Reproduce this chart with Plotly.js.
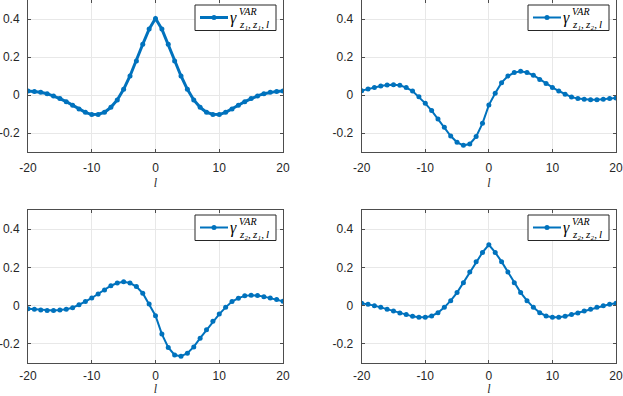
<!DOCTYPE html>
<html>
<head>
<meta charset="utf-8">
<script src="https://cdn.plot.ly/plotly-3.0.1.min.js"></script>
<style>html,body{margin:0;padding:0;background:#fff;}#chart{width:623px;height:396px;}</style>
</head>
<body>
<div id="chart"></div>
<script>
// ---- data ----
const lags = [-20,-19,-18,-17,-16,-15,-14,-13,-12,-11,-10,-9,-8,-7,-6,-5,-4,-3,-2,-1,0,1,2,3,4,5,6,7,8,9,10,11,12,13,14,15,16,17,18,19,20];
const gammaZ1Z1 = [0.021,0.019,0.014,0.007,-0.005,-0.019,-0.035,-0.054,-0.074,-0.091,-0.103,-0.102,-0.091,-0.065,-0.026,0.030,0.100,0.179,0.267,0.347,0.403,0.347,0.267,0.179,0.100,0.030,-0.026,-0.065,-0.091,-0.102,-0.103,-0.091,-0.074,-0.054,-0.035,-0.019,-0.005,0.007,0.014,0.019,0.021];
const gammaZ1Z2 = [0.023,0.032,0.040,0.047,0.053,0.054,0.051,0.039,0.021,-0.009,-0.044,-0.082,-0.126,-0.170,-0.216,-0.249,-0.265,-0.258,-0.219,-0.149,-0.053,0.009,0.065,0.100,0.118,0.125,0.118,0.104,0.082,0.061,0.040,0.021,0.004,-0.011,-0.019,-0.023,-0.025,-0.025,-0.023,-0.019,-0.016];
const gammaZ2Z1 = [-0.016,-0.019,-0.023,-0.025,-0.025,-0.023,-0.019,-0.011,0.004,0.021,0.040,0.061,0.082,0.104,0.118,0.125,0.118,0.100,0.065,0.009,-0.053,-0.149,-0.219,-0.258,-0.265,-0.249,-0.216,-0.170,-0.126,-0.082,-0.044,-0.009,0.021,0.039,0.051,0.054,0.053,0.047,0.040,0.032,0.023];
const gammaZ2Z2 = [0.012,0.007,0.000,-0.009,-0.019,-0.028,-0.038,-0.047,-0.056,-0.061,-0.061,-0.054,-0.037,-0.009,0.026,0.068,0.120,0.176,0.230,0.278,0.318,0.278,0.230,0.176,0.120,0.068,0.026,-0.009,-0.037,-0.054,-0.061,-0.061,-0.056,-0.047,-0.038,-0.028,-0.019,-0.009,0.000,0.007,0.012];
const xTickVals = [-20,-10,0,10,20];
const xTickText = ['-20','-10','0','10','20'];
const yTickVals = [-0.2,0,0.2,0.4];
const yTickText = ['-0.2','0','0.2','0.4'];
const xTitle = 'l';
const legendMain = 'γ';
const legendSup = 'VAR';
const legendSubs = ['z₁,\u2009z₁,\u2009l','z₁,\u2009z₂,\u2009l','z₂,\u2009z₁,\u2009l','z₂,\u2009z₂,\u2009l'];

// ---- layout helpers ----
const W = 623, H = 396;
const color = '#0072BD';
const sans = 'Liberation Sans';
const serif = 'Liberation Serif';
const panels = [
  {y: gammaZ1Z1, xa:'x',  ya:'y',  L:28,    R:283, T:0,   B:152, lw:3, tso:5, tis:4},
  {y: gammaZ1Z2, xa:'x2', ya:'y2', L:361.7, R:616, T:0,   B:152, lw:2, tso:5, tis:4},
  {y: gammaZ2Z1, xa:'x3', ya:'y3', L:28,    R:283, T:210, B:363, lw:2, tso:2, tis:3},
  {y: gammaZ2Z2, xa:'x4', ya:'y4', L:361.7, R:616, T:210, B:363, lw:2, tso:2, tis:3}
];
const px = x => x / W;
const py = y => 1 - y / H;

const traces = [];
const layout = {
  width: W, height: H,
  margin: {l:0, r:0, t:0, b:0},
  paper_bgcolor: '#fff', plot_bgcolor: '#fff',
  showlegend: false,
  font: {family: sans, size: 12, color: '#262626'},
  shapes: [], annotations: []
};

panels.forEach((p, i) => {
  traces.push({
    x: lags, y: p.y, xaxis: p.xa, yaxis: p.ya,
    type: 'scatter', mode: 'lines+markers',
    line: {color: color, width: p.lw},
    marker: {color: color, size: 5},
    hoverinfo: 'skip'
  });
  const xk = 'xaxis' + (i ? i + 1 : '');
  const yk = 'yaxis' + (i ? i + 1 : '');
  layout[xk] = {
    domain: [px(p.L), px(p.R)], anchor: p.ya,
    range: [-20, 20], tickmode: 'array', tickvals: xTickVals, ticktext: xTickText,
    showgrid: true, gridcolor: '#e8e8e8', gridwidth: 1, zeroline: false,
    showline: true, linecolor: '#4d4d4d', linewidth: 1, mirror: 'ticks',
    ticks: 'inside', ticklen: 3, tickcolor: '#4d4d4d', ticklabelstandoff: p.tso,
    tickfont: {family: sans, size: 12, color: '#262626'},
    title: {text: xTitle, font: {family: serif, size: 12, style: 'italic', color: '#262626'}, standoff: p.tis},
    automargin: false, fixedrange: true
  };
  layout[yk] = {
    domain: [py(p.B), py(p.T)], anchor: p.xa,
    range: [-0.3, 0.5], tickmode: 'array', tickvals: yTickVals, ticktext: yTickText,
    showgrid: true, gridcolor: '#e8e8e8', gridwidth: 1, zeroline: false,
    showline: true, linecolor: '#4d4d4d', linewidth: 1, mirror: 'ticks',
    ticks: 'inside', ticklen: 3, tickcolor: '#4d4d4d', ticklabelstandoff: 5,
    tickfont: {family: sans, size: 12, color: '#262626'},
    automargin: false, fixedrange: true
  };

  // custom legend box
  const bl = p.R - 88, br = p.R - 7, bt = p.T + 5, bb = p.T + 30.5;
  layout.shapes.push({type:'rect', xref:'paper', yref:'paper', x0:px(bl), x1:px(br), y0:py(bb), y1:py(bt), line:{color:'#262626', width:1}, fillcolor:'#fff', layer:'above'});
  const ly = p.T + 17.5;
  layout.shapes.push({type:'line', xref:'paper', yref:'paper', x0:px(p.R-83), x1:px(p.R-55), y0:py(ly), y1:py(ly), line:{color:color, width:p.lw}, layer:'above'});
  layout.shapes.push({type:'circle', xref:'paper', yref:'paper', x0:px(p.R-71.5), x1:px(p.R-66.5), y0:py(ly+2.5), y1:py(ly-2.5), line:{color:color, width:0}, fillcolor:color, layer:'above'});
  layout.annotations.push({xref:'paper', yref:'paper', x:px(p.R-45.5), y:py(p.T+18), text:legendMain, showarrow:false, xanchor:'right', yanchor:'middle', borderpad:0, font:{family:serif, size:16, style:'italic', color:'#000'}});
  layout.annotations.push({xref:'paper', yref:'paper', x:px(p.R-45), y:py(p.T+12), text:legendSup, showarrow:false, xanchor:'left', yanchor:'middle', borderpad:0, font:{family:serif, size:10, style:'italic', color:'#000'}});
  layout.annotations.push({xref:'paper', yref:'paper', x:px(p.R-45), y:py(p.T+24.5), text:legendSubs[i], showarrow:false, xanchor:'left', yanchor:'middle', borderpad:0, font:{family:serif, size:11, style:'italic', color:'#000'}});
});

Plotly.newPlot('chart', traces, layout, {staticPlot: true, displayModeBar: false});
</script>
</body>
</html>
